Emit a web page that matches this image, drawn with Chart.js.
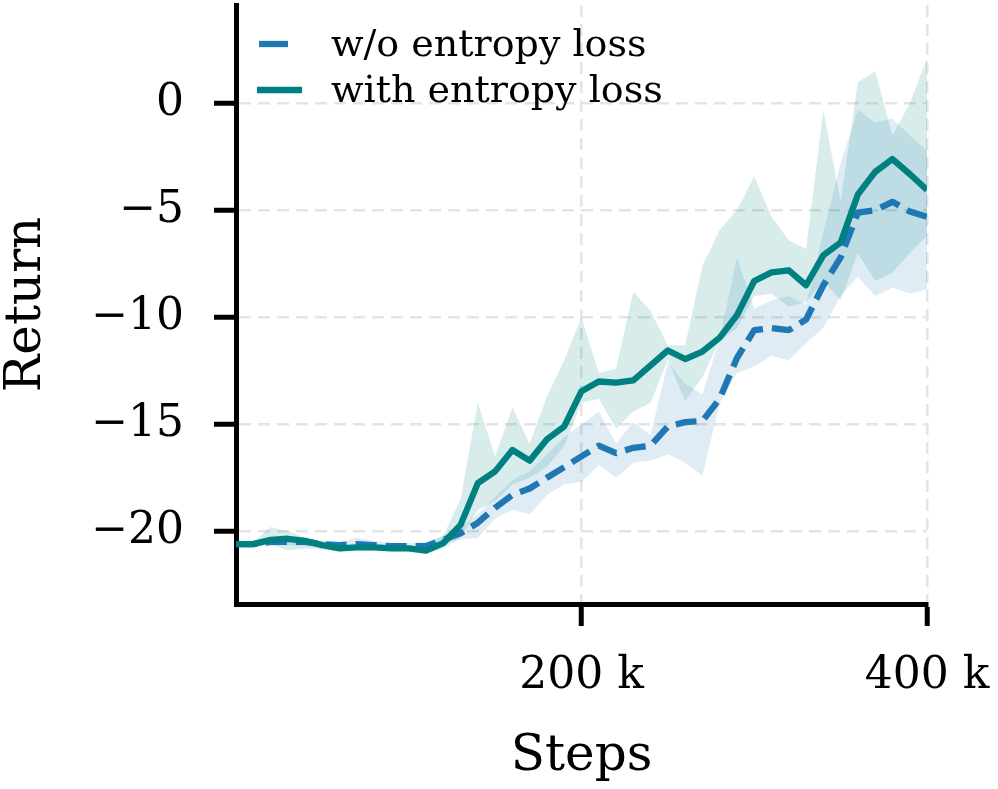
<!DOCTYPE html>
<html>
<head>
<meta charset="utf-8">
<script src="https://cdn.jsdelivr.net/npm/chart.js@4.4.0/dist/chart.umd.min.js"></script>
<style>
  html, body { margin: 0; padding: 0; background: #fff; }
  #wrap { width: 998px; height: 789px; }
</style>
</head>
<body>
<div id="wrap"><canvas id="chart" width="998" height="789"></canvas></div>
<script>
// Steps (x) and returns
const steps = [0, 10000, 20000, 30000, 40000, 50000, 60000, 70000, 80000, 90000,
  100000, 110000, 120000, 130000, 140000, 150000, 160000, 170000, 180000, 190000,
  200000, 210000, 220000, 230000, 240000, 250000, 260000, 270000, 280000, 290000,
  300000, 310000, 320000, 330000, 340000, 350000, 360000, 370000, 380000, 390000, 400000];

const withoutMean = [-20.6, -20.6, -20.5, -20.5, -20.5, -20.6, -20.65, -20.6, -20.65, -20.7,
  -20.7, -20.7, -20.4, -20.1, -19.6, -18.9, -18.3, -18.0, -17.5, -17.0,
  -16.5, -16.0, -16.35, -16.1, -16.0, -15.1, -14.9, -14.85, -13.8, -11.9,
  -10.6, -10.5, -10.6, -10.1, -8.5, -7.2, -5.1, -5.0, -4.6, -5.05, -5.3];
const withoutUpper = [-20.5, -20.5, -20.3, -20.35, -20.3, -20.45, -20.5, -20.3, -20.45, -20.55,
  -20.55, -20.5, -20.2, -19.8, -19.2, -18.4, -17.6, -17.2, -16.4, -15.6,
  -15.0, -14.4, -15.9, -14.9, -15.5, -12.1, -13.1, -13.6, -11.0, -7.2,
  -9.6, -9.2, -9.0, -9.4, -6.0, -2.8, -0.3, -0.9, -0.7, -1.5, -2.2];
const withoutLower = [-20.7, -20.7, -20.7, -20.65, -20.7, -20.75, -20.8, -20.85, -20.85, -20.85,
  -20.85, -20.9, -20.6, -20.4, -20.3, -19.4, -19.0, -19.2, -18.3, -17.8,
  -17.7, -16.9, -17.5, -16.8, -16.7, -16.4, -16.8, -17.4, -14.0, -12.6,
  -12.3, -11.8, -12.0, -11.2, -10.5, -9.0, -8.1, -9.0, -8.6, -8.9, -8.7];

const withMean = [-20.6, -20.6, -20.4, -20.35, -20.45, -20.65, -20.8, -20.75, -20.75, -20.8,
  -20.8, -20.9, -20.55, -19.7, -17.75, -17.2, -16.2, -16.7, -15.7, -15.1,
  -13.45, -13.0, -13.05, -12.95, -12.25, -11.55, -11.95, -11.6, -10.95, -9.9,
  -8.3, -7.9, -7.8, -8.5, -7.1, -6.5, -4.25, -3.2, -2.6, -3.3, -4.05];
const withUpper = [-20.5, -20.5, -19.8, -20.0, -20.3, -20.5, -20.65, -20.6, -20.6, -20.65,
  -20.7, -20.7, -20.2, -18.5, -14.0, -16.5, -14.2, -15.9, -13.7, -12.0,
  -10.0, -12.6, -12.4, -8.8, -9.7, -11.3, -11.3, -7.6, -5.9, -5.0,
  -3.4, -5.3, -6.4, -6.8, -0.3, -4.6, 1.0, 1.5, -1.5, 0.0, 2.1];
const withLower = [-20.7, -20.7, -20.6, -20.9, -20.8, -20.85, -20.95, -20.9, -20.9, -20.95,
  -20.95, -21.05, -20.8, -20.3, -19.0, -18.6, -17.8, -17.5, -17.0, -16.0,
  -14.0, -13.8, -15.2, -14.4, -14.0, -12.0, -13.9, -12.8, -11.1, -10.5,
  -9.0, -8.9, -9.5, -9.3, -8.3, -9.2, -7.0, -8.3, -7.9, -7.0, -6.2];

const xTicks = [200000, 400000];
const yTicks = [-20, -15, -10, -5, 0];

const BLUE = '#1f77b4';
const TEAL = '#008080';
const FONT = '"DejaVu Serif", serif';

const pts = vals => vals.map((v, i) => ({ x: steps[i], y: v }));

const lineBase = { pointRadius: 0, borderJoinStyle: 'round', fill: false, tension: 0 };
const edge = { pointRadius: 0, borderWidth: 0, tension: 0 };

// legend drawn inside the plot, top-left, like the original
const insideLegend = {
  id: 'insideLegend',
  afterDraw(chart) {
    const ctx = chart.ctx;
    ctx.save();
    [0, 1].forEach((idx, r) => {
      const ds = chart.data.datasets[idx];
      const y = 44 + r * 46;
      ctx.beginPath();
      ctx.strokeStyle = ds.borderColor;
      ctx.lineWidth = ds.borderWidth;
      if (ds.borderDash) {
        ctx.setLineDash([29, 40]);
        ctx.moveTo(259, y);
      } else {
        ctx.moveTo(257, y);
      }
      ctx.lineTo(302, y);
      ctx.stroke();
      ctx.setLineDash([]);
      ctx.fillStyle = '#000';
      ctx.font = '38px ' + FONT;
      ctx.textBaseline = 'middle';
      ctx.fillText(ds.label, 331, y + 2);
    });
    ctx.restore();
  }
};

new Chart(document.getElementById('chart'), {
  type: 'line',
  data: {
    datasets: [
      { ...lineBase, label: 'w/o entropy loss', data: pts(withoutMean), borderColor: BLUE,
        borderWidth: 6.3, borderDash: [21, 9], borderCapStyle: 'butt', order: 1 },
      { ...lineBase, label: 'with entropy loss', data: pts(withMean), borderColor: TEAL,
        borderWidth: 6.3, order: 0 },
      { ...edge, label: 'w/o upper', data: pts(withoutUpper), fill: false, order: 3 },
      { ...edge, label: 'w/o lower', data: pts(withoutLower), fill: 2,
        backgroundColor: 'rgba(31,119,180,0.14)', order: 3 },
      { ...edge, label: 'with upper', data: pts(withUpper), fill: false, order: 2 },
      { ...edge, label: 'with lower', data: pts(withLower), fill: 4,
        backgroundColor: 'rgba(0,128,128,0.15)', order: 2 }
    ]
  },
  options: {
    responsive: false,
    devicePixelRatio: 1,
    animation: false,
    layout: { padding: { top: 5, right: 71, left: 0, bottom: 0 } },
    plugins: {
      legend: { display: false },
      tooltip: { enabled: false }
    },
    scales: {
      x: {
        type: 'linear',
        min: 0,
        max: 400000,
        afterBuildTicks: scale => { scale.ticks = xTicks.map(v => ({ value: v })); },
        afterFit: scale => { scale.height = 185; scale.paddingLeft = 0; scale.paddingRight = 0; },
        ticks: {
          font: { family: FONT, size: 44 },
          color: '#000',
          padding: 24,
          maxRotation: 0,
          callback: v => (v / 1000) + ' k'
        },
        grid: {
          color: '#e4e4e4',
          lineWidth: 2.5,
          tickLength: 22,
          tickWidth: 5,
          tickColor: '#000',
          tickBorderDash: []
        },
        border: { display: true, color: '#000', width: 5, dash: [12, 7] },
        title: {
          display: true,
          text: 'Steps',
          font: { family: FONT, size: 50, lineHeight: 1 },
          color: '#000',
          padding: { top: 0, bottom: 7 }
        }
      },
      y: {
        min: -23.4,
        max: 4.6,
        afterBuildTicks: scale => { scale.ticks = yTicks.map(v => ({ value: v })); },
        afterFit: scale => { scale.width = 236; scale.paddingTop = 0; scale.paddingBottom = 0; },
        ticks: {
          font: { family: FONT, size: 44 },
          color: '#000',
          padding: 30,
          callback: v => (v < 0 ? '\u2212' + Math.abs(v) : String(v))
        },
        grid: {
          color: '#e4e4e4',
          lineWidth: 2.5,
          tickLength: 22,
          tickWidth: 5,
          tickColor: '#000',
          tickBorderDash: []
        },
        border: { display: true, color: '#000', width: 5, dash: [12, 7] },
        title: {
          display: true,
          text: 'Return',
          font: { family: FONT, size: 50, lineHeight: 1 },
          color: '#000',
          padding: { top: 2, bottom: 0 }
        }
      }
    }
  },
  plugins: [insideLegend]
});
</script>
</body>
</html>
